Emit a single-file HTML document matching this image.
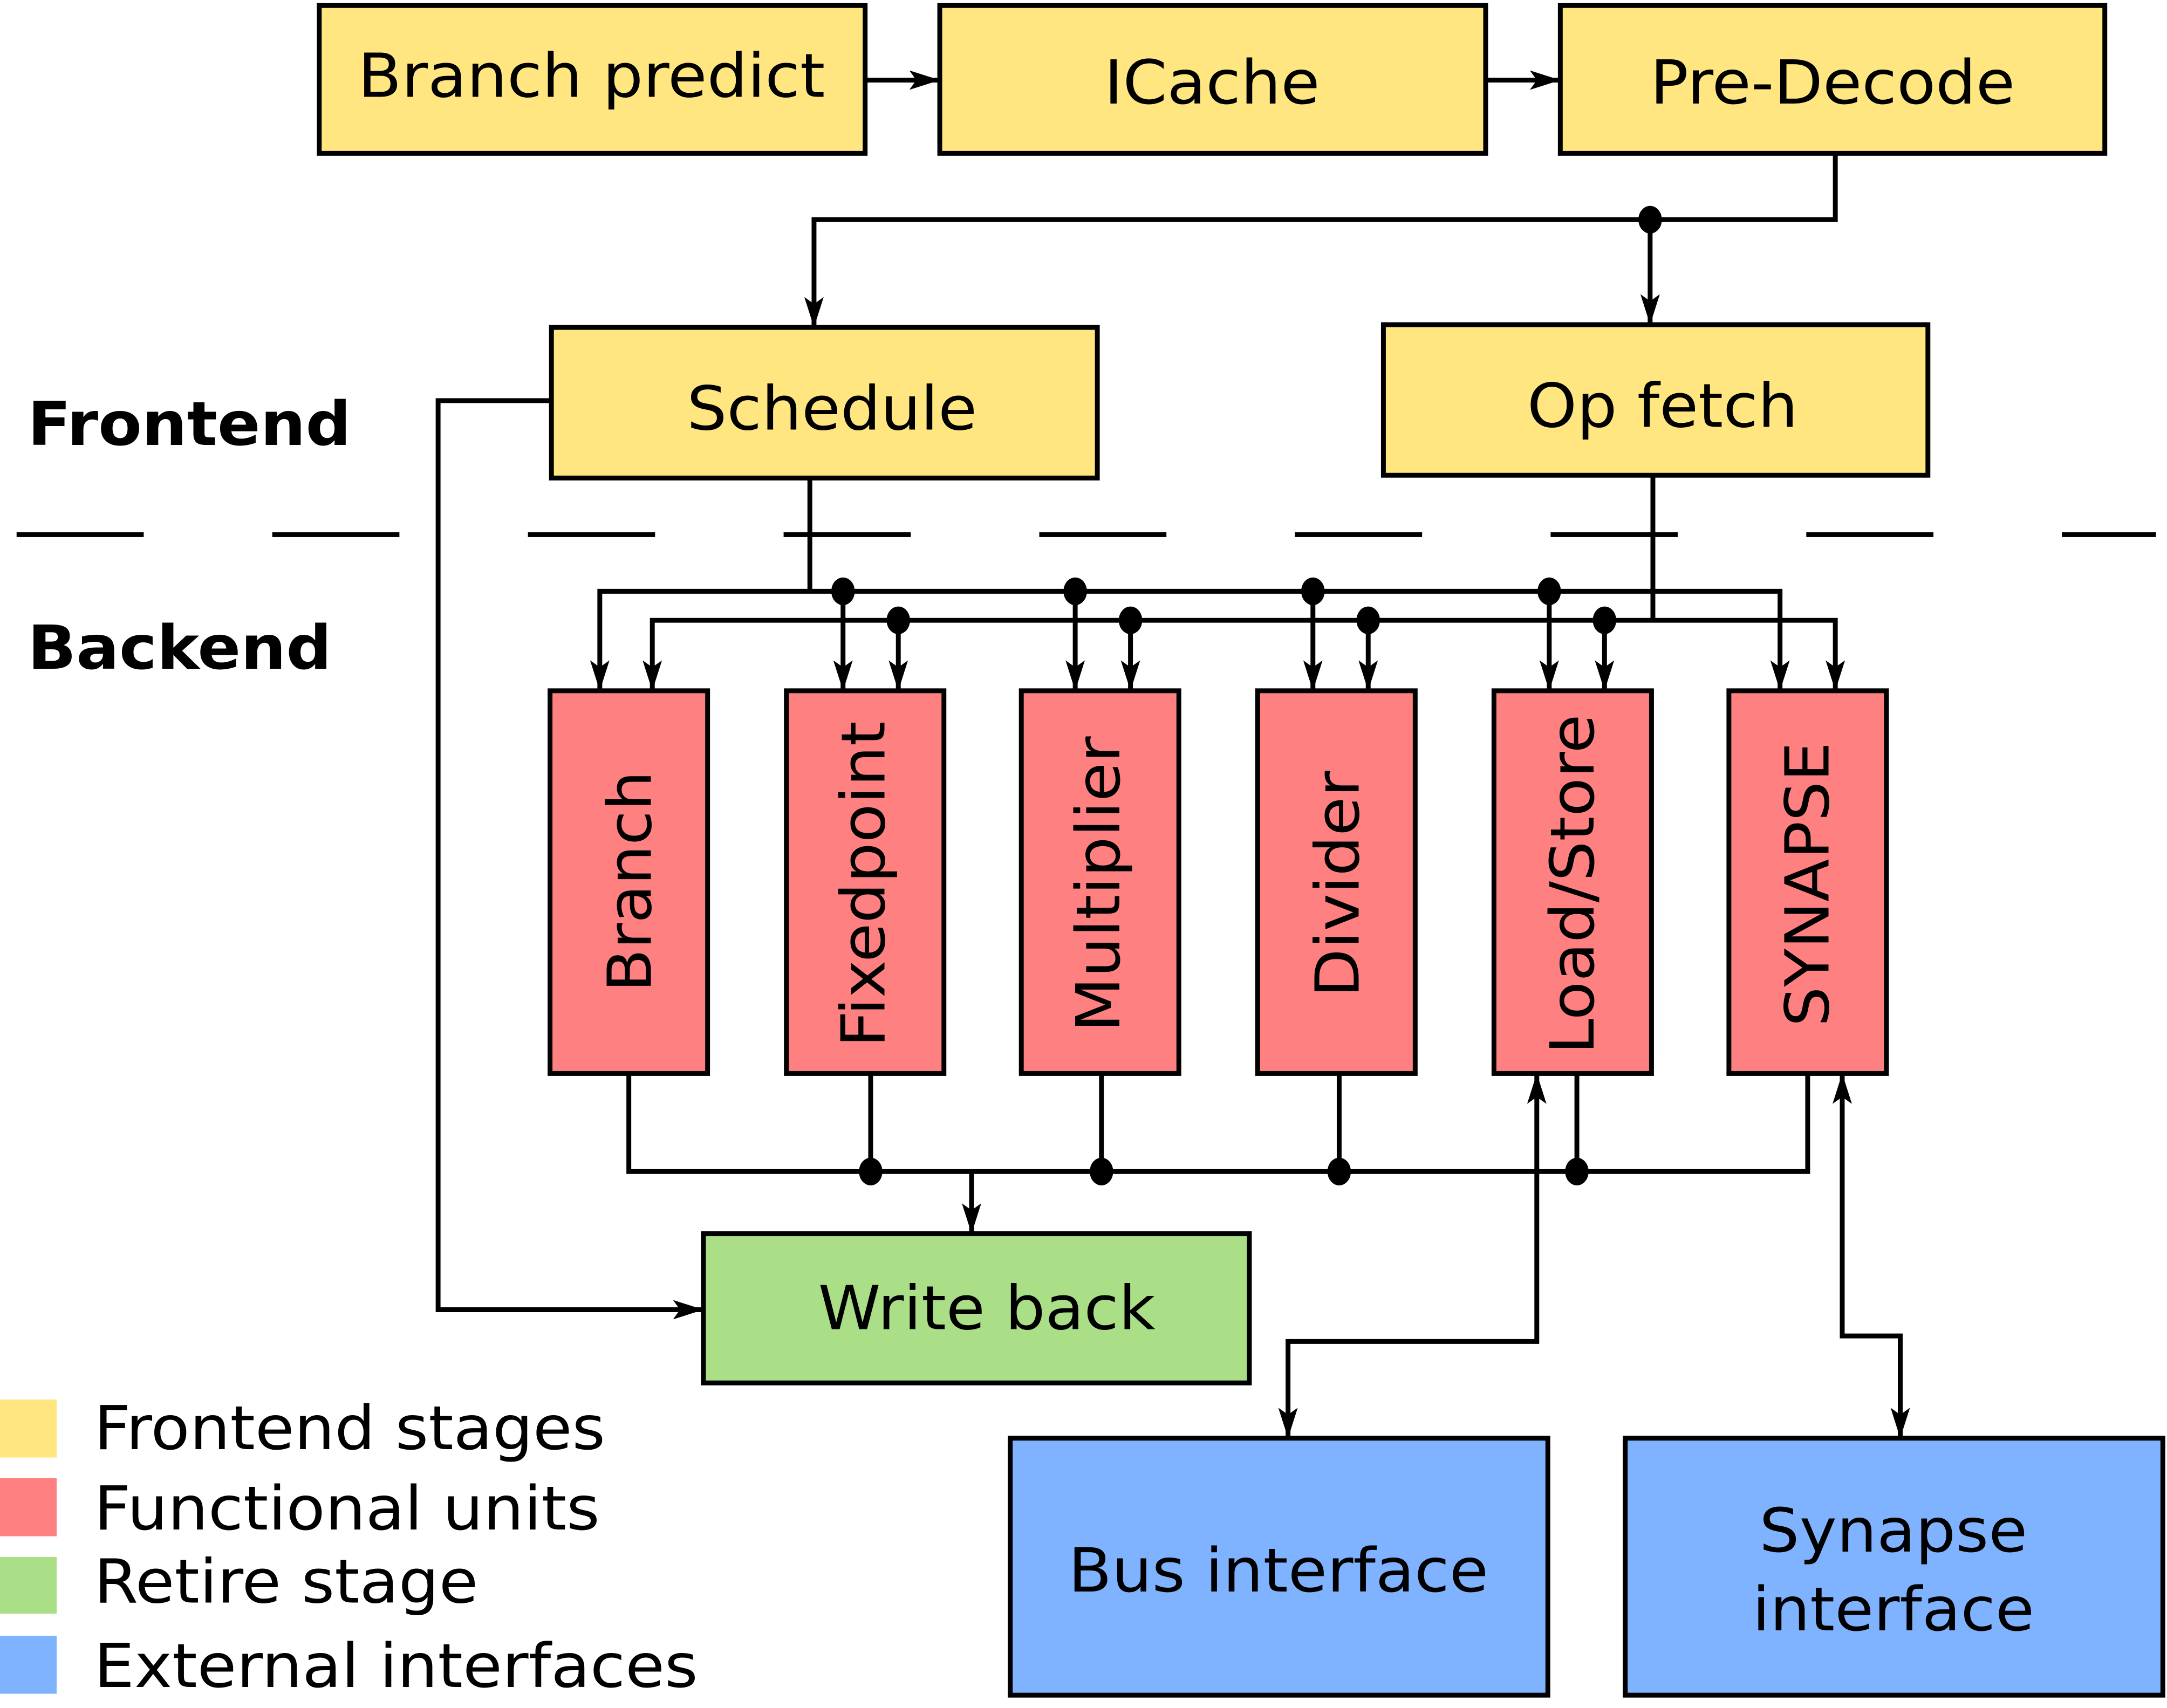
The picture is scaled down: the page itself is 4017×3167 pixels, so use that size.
<!DOCTYPE html>
<html><head><meta charset="utf-8"><style>
html,body{margin:0;padding:0;background:#fff;}
svg{display:block;}
text{font-family:"DejaVu Sans","Liberation Sans",sans-serif;fill:#000;}
</style></head><body>
<svg width="4017" height="3167" viewBox="0 0 1568 1236.3" preserveAspectRatio="none" xmlns="http://www.w3.org/2000/svg">
<defs>
<marker id="a" viewBox="0 0 22 14" refX="22" refY="7" markerWidth="22" markerHeight="14" markerUnits="userSpaceOnUse" orient="auto-start-reverse">
<path d="M0,0 L22,7 L0,14 L5,7 Z" fill="#000"/>
</marker>
</defs>
<g stroke="#000" stroke-width="3.5">
<rect x="231" y="4" width="395" height="107" fill="#ffe680"/>
<rect x="680" y="4" width="395" height="107" fill="#ffe680"/>
<rect x="1129" y="4" width="394" height="107" fill="#ffe680"/>
<rect x="399" y="237" width="395" height="109" fill="#ffe680"/>
<rect x="1001" y="235" width="394" height="109" fill="#ffe680"/>
<rect x="398" y="500" width="114" height="277" fill="#ff8080"/>
<rect x="569" y="500" width="114" height="277" fill="#ff8080"/>
<rect x="739" y="500" width="114" height="277" fill="#ff8080"/>
<rect x="910" y="500" width="114" height="277" fill="#ff8080"/>
<rect x="1081" y="500" width="114" height="277" fill="#ff8080"/>
<rect x="1251" y="500" width="114" height="277" fill="#ff8080"/>
<rect x="509" y="893" width="395" height="108" fill="#aade87"/>
<rect x="731" y="1041" width="389" height="186" fill="#80b3ff"/>
<rect x="1176" y="1041" width="389" height="186" fill="#80b3ff"/>
</g>
<g stroke="none">
<rect x="0" y="1013" width="41" height="42" fill="#ffe680"/>
<rect x="0" y="1070" width="41" height="42" fill="#ff8080"/>
<rect x="0" y="1127" width="41" height="41" fill="#aade87"/>
<rect x="0" y="1184" width="41" height="42" fill="#80b3ff"/>
</g>
<g stroke="#000" stroke-width="3.5" fill="none">
<path d="M12,387 H1560" stroke-dasharray="92 93"/>
<path d="M626,58 H680" marker-end="url(#a)"/>
<path d="M1075,58 H1129" marker-end="url(#a)"/>
<path d="M1328,111 V159 H589 V237" marker-end="url(#a)"/>
<path d="M1194,159 V235" marker-end="url(#a)"/>
<path d="M586,346 V428"/>
<path d="M1196,344 V449"/>
<path d="M434,500 V428 H1288 V500" marker-start="url(#a)" marker-end="url(#a)"/>
<path d="M472,500 V449 H1328 V500" marker-start="url(#a)" marker-end="url(#a)"/>
<path d="M610,428 V500" marker-end="url(#a)"/>
<path d="M778,428 V500" marker-end="url(#a)"/>
<path d="M950,428 V500" marker-end="url(#a)"/>
<path d="M1121,428 V500" marker-end="url(#a)"/>
<path d="M650,449 V500" marker-end="url(#a)"/>
<path d="M818,449 V500" marker-end="url(#a)"/>
<path d="M990,449 V500" marker-end="url(#a)"/>
<path d="M1161,449 V500" marker-end="url(#a)"/>
<path d="M455,777 V848 H1308 V777"/>
<path d="M630,777 V848"/>
<path d="M797,777 V848"/>
<path d="M969,777 V848"/>
<path d="M1141,777 V848"/>
<path d="M703,848 V893" marker-end="url(#a)"/>
<path d="M399,290 H317 V948 H509" marker-end="url(#a)"/>
<path d="M1112,777 V971 H932 V1041" marker-start="url(#a)" marker-end="url(#a)"/>
<path d="M1333,777 V967 H1375 V1041" marker-start="url(#a)" marker-end="url(#a)"/>
</g>
<g fill="#000">
<ellipse cx="1194" cy="159" rx="8.5" ry="10"/>
<ellipse cx="610" cy="428" rx="8.5" ry="10"/>
<ellipse cx="778" cy="428" rx="8.5" ry="10"/>
<ellipse cx="950" cy="428" rx="8.5" ry="10"/>
<ellipse cx="1121" cy="428" rx="8.5" ry="10"/>
<ellipse cx="650" cy="449" rx="8.5" ry="10"/>
<ellipse cx="818" cy="449" rx="8.5" ry="10"/>
<ellipse cx="990" cy="449" rx="8.5" ry="10"/>
<ellipse cx="1161" cy="449" rx="8.5" ry="10"/>
<ellipse cx="630" cy="848" rx="8.5" ry="10"/>
<ellipse cx="797" cy="848" rx="8.5" ry="10"/>
<ellipse cx="969" cy="848" rx="8.5" ry="10"/>
<ellipse cx="1141" cy="848" rx="8.5" ry="10"/>
</g>
<g font-size="44" text-anchor="middle">
<text x="428" y="70" textLength="338" lengthAdjust="spacingAndGlyphs">Branch predict</text>
<text x="877" y="75" textLength="156" lengthAdjust="spacingAndGlyphs">ICache</text>
<text x="1326" y="75" textLength="264" lengthAdjust="spacingAndGlyphs">Pre-Decode</text>
<text x="602" y="311" textLength="210" lengthAdjust="spacingAndGlyphs">Schedule</text>
<text x="1203" y="309" textLength="196" lengthAdjust="spacingAndGlyphs">Op fetch</text>
<text x="714" y="962" textLength="244" lengthAdjust="spacingAndGlyphs">Write back</text>
<text x="925" y="1152" textLength="304" lengthAdjust="spacingAndGlyphs">Bus interface</text>
<text x="1370" y="1123" textLength="194" lengthAdjust="spacingAndGlyphs">Synapse</text>
<text x="1370" y="1180" textLength="204" lengthAdjust="spacingAndGlyphs">interface</text>
<text transform="translate(471,638) rotate(-90)" textLength="160" lengthAdjust="spacingAndGlyphs">Branch</text>
<text transform="translate(640,640) rotate(-90)" textLength="236" lengthAdjust="spacingAndGlyphs">Fixedpoint</text>
<text transform="translate(810,640) rotate(-90)" textLength="214" lengthAdjust="spacingAndGlyphs">Multiplier</text>
<text transform="translate(983,640) rotate(-90)" textLength="164" lengthAdjust="spacingAndGlyphs">Divider</text>
<text transform="translate(1153,640) rotate(-90)" textLength="246" lengthAdjust="spacingAndGlyphs">Load/Store</text>
<text transform="translate(1323,640) rotate(-90)" textLength="206" lengthAdjust="spacingAndGlyphs">SYNAPSE</text>
</g>
<g font-size="44" font-weight="bold">
<text x="20" y="322" textLength="234" lengthAdjust="spacingAndGlyphs">Frontend</text>
<text x="20" y="484" textLength="220" lengthAdjust="spacingAndGlyphs">Backend</text>
</g>
<g font-size="44">
<text x="68" y="1049" textLength="370" lengthAdjust="spacingAndGlyphs">Frontend stages</text>
<text x="68" y="1107" textLength="366" lengthAdjust="spacingAndGlyphs">Functional units</text>
<text x="68" y="1160" textLength="278" lengthAdjust="spacingAndGlyphs">Retire stage</text>
<text x="68" y="1221" textLength="437" lengthAdjust="spacingAndGlyphs">External interfaces</text>
</g>
</svg>
</body></html>
